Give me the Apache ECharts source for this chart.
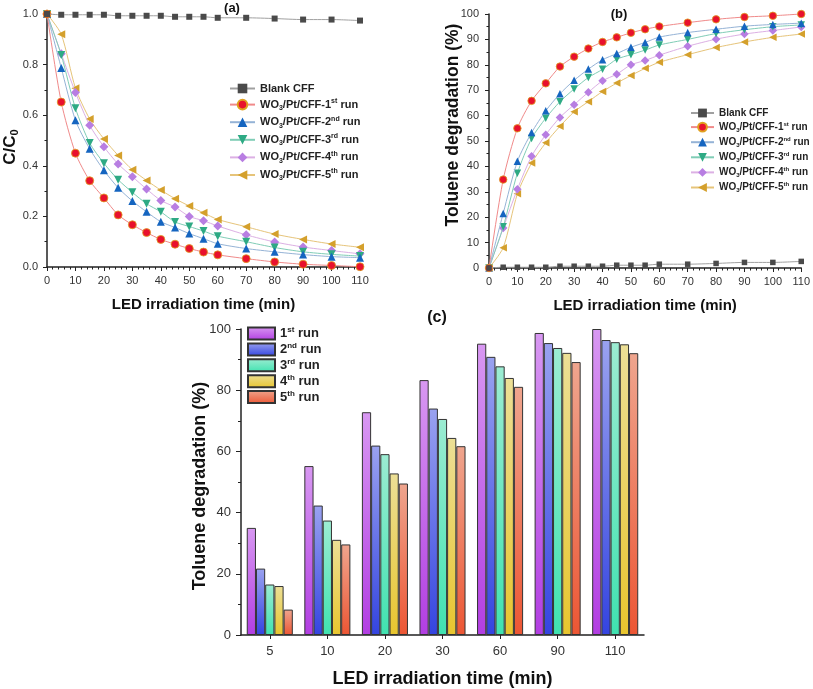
<!DOCTYPE html>
<html><head><meta charset="utf-8">
<script src="https://cdn.jsdelivr.net/npm/echarts/dist/echarts.min.js"></script>
<style>html,body{margin:0;padding:0;background:#fff}#c{width:813px;height:689px}</style>
</head><body><div id="c"></div>
<script>
// ---------- data ----------
const times = [0,5,10,15,20,25,30,35,40,45,50,55,60,70,80,90,100,110];
const seriesNames = ['Blank CFF','WO3/Pt/CFF-1st run','WO3/Pt/CFF-2nd run','WO3/Pt/CFF-3rd run','WO3/Pt/CFF-4th run','WO3/Pt/CFF-5th run'];
// panel (a): C/C0
const blankA = [1,0.997,0.997,0.997,0.997,0.993,0.993,0.993,0.993,0.989,0.989,0.989,0.985,0.985,0.982,0.978,0.978,0.974];
const run1A = [1,0.652,0.45,0.341,0.273,0.206,0.167,0.136,0.109,0.09,0.073,0.059,0.048,0.033,0.02,0.011,0.006,0.001];
const run2A = [1,0.787,0.58,0.467,0.382,0.313,0.261,0.218,0.179,0.156,0.132,0.112,0.092,0.073,0.06,0.049,0.041,0.037];
const run3A = [1,0.838,0.627,0.49,0.41,0.345,0.295,0.25,0.218,0.178,0.16,0.142,0.122,0.1,0.077,0.06,0.05,0.043];
const run4A = [1,0.843,0.69,0.56,0.475,0.407,0.357,0.308,0.263,0.237,0.2,0.183,0.162,0.127,0.099,0.079,0.065,0.052];
const run5A = [1,0.92,0.707,0.585,0.506,0.441,0.384,0.342,0.304,0.27,0.241,0.214,0.188,0.159,0.13,0.109,0.091,0.078];
// panel (b): toluene degradation (%)
const blankB = [0,0.3,0.3,0.3,0.3,0.7,0.7,0.7,0.7,1.1,1.1,1.1,1.5,1.5,1.8,2.2,2.2,2.6];
const run1B = [0,34.8,55,65.8,72.7,79.3,83.2,86.4,89,90.8,92.6,94,95.1,96.6,97.9,98.8,99.3,100];
const run2B = [0,21.5,42,53.3,61.9,68.6,73.9,78.3,82,84.4,86.9,88.8,90.9,92.7,94,95.2,95.9,96.4];
const run3B = [0,16.2,37.3,51,59,65.5,70.5,75,78.2,82.2,84,85.8,87.8,90,92.3,93.8,95,95.7];
const run4B = [0,15.7,31,44,52.5,59.3,64.3,69.2,73.7,76.3,80,81.7,83.8,87.3,90.1,92.1,93.5,94.9];
const run5B = [0,8,29.2,41.3,49.3,55.8,61.5,65.5,69.5,72.8,75.8,78.6,81,84,86.8,89,90.8,92.1];
// panel (c): bars
const barCats = ['5','10','20','30','60','90','110'];
const barNames = ['1st run','2nd run','3rd run','4th run','5th run'];
const bar1 = [35,55.2,72.8,83.3,95.2,98.7,100];
const bar2 = [21.7,42.3,61.9,74,90.9,95.4,96.4];
const bar3 = [16.5,37.4,59.1,70.6,87.8,93.8,95.7];
const bar4 = [16,31.1,52.8,64.4,84,92.2,95];
const bar5 = [8.3,29.6,49.5,61.7,81.1,89.2,92.1];

// ---------- style ----------
const F = '"Liberation Sans", Arial, sans-serif';
const AX = '#222';
const lineStyles = [
  {line:'#a0a0a0', mark:'#4a4a4a', symbol:'rect', size:6, rot:0, border:'#4a4a4a'},
  {line:'#f08a8a', mark:'#e8112d', symbol:'circle', size:8, rot:0, border:'#e0a020'},
  {line:'#95b3d6', mark:'#1565c0', symbol:'triangle', size:8, rot:0, border:'#1565c0'},
  {line:'#80cdb6', mark:'#2eaa84', symbol:'triangle', size:8, rot:180, border:'#2eaa84'},
  {line:'#dcb0e4', mark:'#b87ee2', symbol:'diamond', size:9, rot:0, border:'#b87ee2'},
  {line:'#e6c47a', mark:'#d4a02c', symbol:'triangle', size:8, rot:90, border:'#d4a02c'}
];
const barColors = [
  ['#d898f2','#b23ee2'],
  ['#9aa2f0','#3444e0'],
  ['#9cecd2','#40e2b0'],
  ['#ecdf96','#e8c52e'],
  ['#efa58e','#ec5634']
];
const dataA = [blankA, run1A, run2A, run3A, run4A, run5A];
const dataB = [blankB, run1B, run2B, run3B, run4B, run5B];
const barData = [bar1, bar2, bar3, bar4, bar5];

const legendLabel = {
  'Blank CFF': '{b|Blank CFF}',
  'WO3/Pt/CFF-1st run': '{b|WO}{sub|3}{b|/Pt/CFF-1}{sup|st}{b| run}',
  'WO3/Pt/CFF-2nd run': '{b|WO}{sub|3}{b|/Pt/CFF-2}{sup|nd}{b| run}',
  'WO3/Pt/CFF-3rd run': '{b|WO}{sub|3}{b|/Pt/CFF-3}{sup|rd}{b| run}',
  'WO3/Pt/CFF-4th run': '{b|WO}{sub|3}{b|/Pt/CFF-4}{sup|th}{b| run}',
  'WO3/Pt/CFF-5th run': '{b|WO}{sub|3}{b|/Pt/CFF-5}{sup|th}{b| run}',
  '1st run': '{b|1}{sup|st}{b| run}',
  '2nd run': '{b|2}{sup|nd}{b| run}',
  '3rd run': '{b|3}{sup|rd}{b| run}',
  '4th run': '{b|4}{sup|th}{b| run}',
  '5th run': '{b|5}{sup|th}{b| run}'
};
function rich(fs, lh) {
  const s = Math.round(fs * 0.62);
  return {
    b: {fontSize: fs, fontWeight: 'bold', fontFamily: F, color: '#222', lineHeight: lh},
    sub: {fontSize: s, fontWeight: 'bold', fontFamily: F, color: '#222', lineHeight: s + 1, verticalAlign: 'bottom'},
    sup: {fontSize: s, fontWeight: 'bold', fontFamily: F, color: '#222', lineHeight: s + 1, verticalAlign: 'top'}
  };
}

function valueX(gi) {
  return {
    type: 'value', gridIndex: gi, min: 0, max: 110, interval: 10,
    name: 'LED irradiation time (min)', nameLocation: 'middle', nameGap: 30,
    nameTextStyle: {fontFamily: F, fontWeight: 'bold', fontSize: 15, color: '#111'},
    axisLine: {onZero: false, lineStyle: {color: AX, width: 1.5}},
    axisTick: {show: true, length: 4, lineStyle: {color: AX, width: 1}},
    minorTick: {show: true, splitNumber: 5, length: 2.5, lineStyle: {color: AX, width: 1}},
    axisLabel: {fontFamily: F, fontSize: 11, color: '#333', margin: 8},
    splitLine: {show: false}
  };
}

const series = [];
dataA.forEach((arr, k) => {
  const st = lineStyles[k];
  series.push({
    type: 'line', name: seriesNames[k], xAxisIndex: 0, yAxisIndex: 0,
    data: times.map((t, i) => [t, arr[i]]),
    smooth: 0.25, clip: false,
    symbol: st.symbol, symbolSize: st.size, symbolRotate: st.rot,
    lineStyle: {color: st.line, width: 1},
    itemStyle: {color: st.mark, borderColor: st.border, borderWidth: k === 1 ? 0.8 : 0},
    z: 3 + (6 - k)
  });
});
dataB.forEach((arr, k) => {
  const st = lineStyles[k];
  series.push({
    type: 'line', name: seriesNames[k], xAxisIndex: 1, yAxisIndex: 1,
    data: times.map((t, i) => [t, arr[i]]),
    smooth: 0.25, clip: false,
    symbol: st.symbol, symbolSize: st.size - 0.5, symbolRotate: st.rot,
    lineStyle: {color: st.line, width: 1},
    itemStyle: {color: st.mark, borderColor: st.border, borderWidth: k === 1 ? 0.8 : 0},
    z: 3 + (6 - k)
  });
});
barData.forEach((arr, k) => {
  series.push({
    type: 'bar', name: barNames[k], xAxisIndex: 2, yAxisIndex: 2,
    data: arr, barGap: '0%', barCategoryGap: '20%',
    itemStyle: {
      color: {type: 'linear', x: 0, y: 0, x2: 0, y2: 1,
        colorStops: [{offset: 0, color: barColors[k][0]}, {offset: 1, color: barColors[k][1]}]},
      borderColor: '#333', borderWidth: 1
    }
  });
});

const option = {
  animation: false,
  backgroundColor: '#fff',
  textStyle: {fontFamily: F},
  grid: [
    {left: 47, top: 14, width: 313, height: 253},
    {left: 489, top: 14, width: 314, height: 254},
    {left: 241, top: 329, width: 403, height: 313}
  ],
  xAxis: [
    valueX(0),
    valueX(1),
    {
      type: 'category', gridIndex: 2, data: barCats,
      name: 'LED irradiation time (min)', nameLocation: 'middle', nameGap: 35,
      nameTextStyle: {fontFamily: F, fontWeight: 'bold', fontSize: 18, color: '#111'},
      axisLine: {lineStyle: {color: AX, width: 1.5}},
      axisTick: {show: true, alignWithLabel: true, length: 4, lineStyle: {color: AX}},
      axisLabel: {fontFamily: F, fontSize: 13, color: '#333', margin: 10},
      splitLine: {show: false}
    }
  ],
  yAxis: [
    {
      type: 'value', gridIndex: 0, min: 0, max: 1, interval: 0.2, offset: 3,
      axisLine: {show: true, lineStyle: {color: AX, width: 1.5}},
      axisTick: {show: true, length: 4, lineStyle: {color: AX}},
      minorTick: {show: true, splitNumber: 2, length: 2.5, lineStyle: {color: AX}},
      axisLabel: {fontFamily: F, fontSize: 11, color: '#333', margin: 6, formatter: v => v.toFixed(1)},
      splitLine: {show: false}
    },
    {
      type: 'value', gridIndex: 1, min: 0, max: 100, interval: 10, offset: 2,
      axisLine: {show: true, lineStyle: {color: AX, width: 1.5}},
      axisTick: {show: true, length: 4, lineStyle: {color: AX}},
      minorTick: {show: true, splitNumber: 2, length: 2.5, lineStyle: {color: AX}},
      axisLabel: {fontFamily: F, fontSize: 11, color: '#333', margin: 8},
      splitLine: {show: false}
    },
    {
      type: 'value', gridIndex: 2, min: 0, max: 100, interval: 20,
      axisLine: {show: true, lineStyle: {color: AX, width: 1.5}},
      axisTick: {show: true, length: 5, lineStyle: {color: AX}},
      minorTick: {show: true, splitNumber: 2, length: 3, lineStyle: {color: AX}},
      axisLabel: {fontFamily: F, fontSize: 13, color: '#333', margin: 10},
      splitLine: {show: false}
    }
  ],
  legend: [
    {
      data: seriesNames, orient: 'vertical', left: 229, top: 83, padding: 0,
      itemWidth: 25, itemHeight: 12, itemGap: 3.6,
      formatter: n => legendLabel[n],
      textStyle: {rich: rich(11, 14)}
    },
    {
      data: seriesNames, orient: 'vertical', left: 690, top: 108, padding: 0,
      itemWidth: 23, itemHeight: 11, itemGap: 3.1,
      formatter: n => legendLabel[n],
      textStyle: {rich: rich(10, 12)}
    },
    {
      data: barNames, orient: 'vertical', left: 247, top: 326, padding: 0,
      icon: 'rect',
      itemWidth: 27, itemHeight: 12, itemGap: 1.4,
      formatter: n => legendLabel[n],
      textStyle: {rich: rich(13, 15)}
    }
  ],
  graphic: [
    {type: 'text', x: 232, y: 8, style: {text: '(a)', font: 'bold 13px ' + F, fill: '#111', align: 'center', verticalAlign: 'middle'}},
    {type: 'text', x: 619, y: 14, style: {text: '(b)', font: 'bold 13px ' + F, fill: '#111', align: 'center', verticalAlign: 'middle'}},
    {type: 'text', x: 437, y: 318, style: {text: '(c)', font: 'bold 16px ' + F, fill: '#111', align: 'center', verticalAlign: 'middle'}},
    {type: 'text', x: 10, y: 147, rotation: Math.PI / 2,
      style: {text: '{m|C/C}{s|0}', align: 'center', verticalAlign: 'middle',
        rich: {m: {font: 'bold 17px ' + F, fill: '#111', lineHeight: 20},
               s: {font: 'bold 11px ' + F, fill: '#111', lineHeight: 11, verticalAlign: 'bottom'}}}},
    {type: 'text', x: 453, y: 125, rotation: Math.PI / 2,
      style: {text: 'Toluene degradation (%)', font: 'bold 17.5px ' + F, fill: '#111', align: 'center', verticalAlign: 'middle'}},
    {type: 'text', x: 200, y: 486, rotation: Math.PI / 2,
      style: {text: 'Toluene degradation (%)', font: 'bold 18px ' + F, fill: '#111', align: 'center', verticalAlign: 'middle'}}
  ],
  series: series
};

const chart = echarts.init(document.getElementById('c'), null, {renderer: 'canvas'});
chart.setOption(option);
</script>
</body></html>
